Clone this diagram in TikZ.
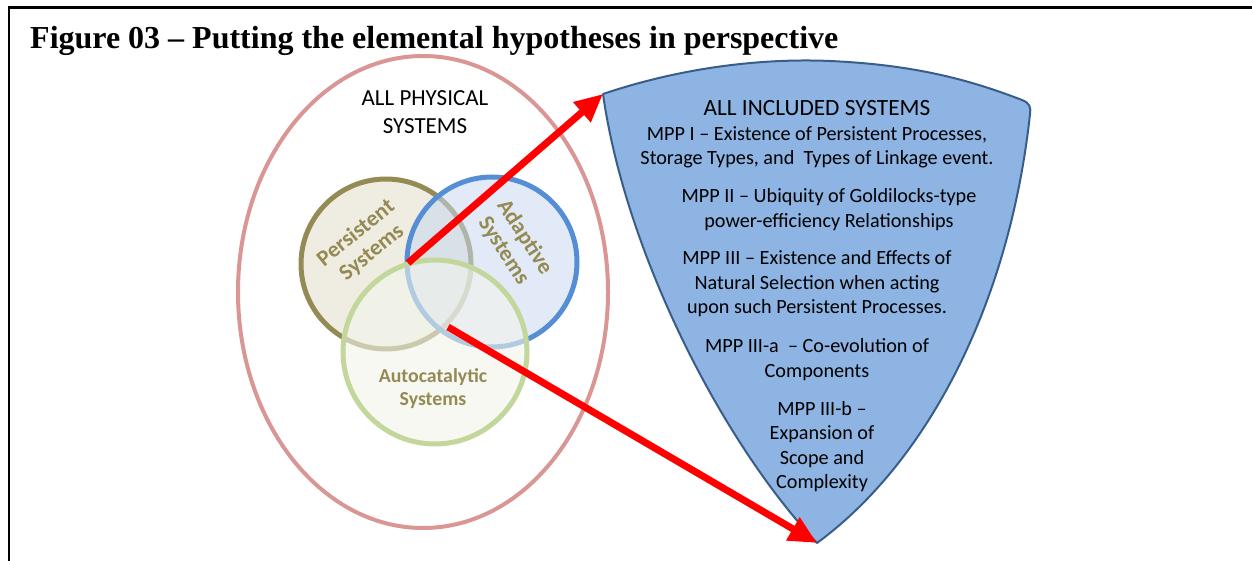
\documentclass[tikz,border=0pt]{standalone}
\usepackage{fontspec}
\setmainfont{Carlito}
\newfontfamily\titlefont{Liberation Serif}
\usetikzlibrary{arrows.meta,shapes.geometric}
\definecolor{physc}{HTML}{D99694}
\definecolor{persc}{HTML}{948A54}
\definecolor{persf}{HTML}{E4E1CF}
\definecolor{adapc}{HTML}{558ED5}
\definecolor{adapf}{HTML}{C9D8EE}
\definecolor{autoc}{HTML}{C3D69B}
\definecolor{autof}{HTML}{F1F4EA}
\definecolor{shieldf}{HTML}{8EB4E3}
\definecolor{shieldc}{HTML}{385D8A}
\definecolor{arrred}{HTML}{FF0000}
\tikzset{
  venn/.style={circle, inner sep=0pt, line width=5pt},
  vennlabel/.style={text=persc, font=\bfseries\fontsize{22.5}{25}\selectfont, align=center, inner sep=0pt},
  bodytext/.style={font=\fontsize{20.2}{24.5}\selectfont, align=center, inner sep=0pt, text=black},
  redarrow/.style={draw=arrred, line width=7pt, -{Triangle[length=28pt,width=25pt]}}
}
\begin{document}
\begin{tikzpicture}[x=1pt,y=-1pt]
\useasboundingbox (0,0) rectangle (1252,561);
% frame
\draw[line width=2pt] (9,561) -- (9,7.5);
\draw[line width=3pt] (8,7.5) -- (1252,7.5);
% title
\node[anchor=base west, inner sep=0pt, font=\titlefont\bfseries\fontsize{32}{36}\selectfont] (title) at (30,49) {Figure 03 – Putting the elemental hypotheses in perspective};
% all physical systems
\node[ellipse, draw=physc, line width=4pt, minimum width=370pt, minimum height=472pt, inner sep=0pt] (phys) at (423,292) {};
\node[bodytext, font=\fontsize{23}{28}\selectfont] (physlbl) at (425,112) {ALL PHYSICAL\\SYSTEMS};
% venn circles
\node[venn, draw=persc, fill=persf, fill opacity=0.6, minimum size=170pt] (pers) at (386,264) {};
\node[venn, draw=adapc, fill=adapf, fill opacity=0.55, minimum size=170pt] (adap) at (492,262) {};
\node[venn, draw=autoc, fill=autof, fill opacity=0.6, minimum size=184pt] (auto) at (435,352) {};
\node[vennlabel, rotate=39] (perslbl) at (364,243) {Persistent\\Systems};
\node[vennlabel, rotate=-57] (adaplbl) at (514,244) {Adaptive\\Systems};
\node[vennlabel, font=\bfseries\fontsize{19.8}{23}\selectfont] (autolbl) at (433,389) {Autocatalytic\\Systems};
% included systems shield
\coordinate (stl) at (603,94);
\coordinate (sbt) at (817,543);
\coordinate (str) at (1030,114);
\filldraw[fill=shieldf, draw=shieldc, line width=2pt, line join=round]
  (stl) .. controls (680,68) and (760,58) .. (830,61)
        .. controls (920,65) and (975,82) .. (1022,100)
        .. controls (1030,103) and (1031,108) .. (str)
        .. controls (1010,300) and (930,460) .. (sbt)
        .. controls (720,440) and (625,250) .. (stl) -- cycle;
\node[bodytext, font=\fontsize{23.3}{26}\selectfont] (inclhead) at (817,108) {ALL INCLUDED SYSTEMS};
\node[bodytext] (mpp1) at (817,147.5) {MPP I – Existence of Persistent Processes,\\Storage Types, and\ \ Types of Linkage event.};
\node[bodytext] (mpp2) at (829,209.5) {MPP II – Ubiquity of Goldilocks-type\\power-efficiency Relationships};
\node[bodytext] (mpp3) at (817,284) {MPP III – Existence and Effects of\\Natural Selection when acting\\upon such Persistent Processes.};
\node[bodytext] (mpp3a) at (817,359.5) {MPP III-a\ \ – Co-evolution of\\Components};
\node[bodytext] (mpp3b) at (822,446.5) {MPP III-b –\\Expansion of\\Scope and\\Complexity};
% arrows
\coordinate (a1s) at (408,263);
\coordinate (a2s) at (448,327);
\draw[redarrow] (a1s) -- (stl);
\draw[redarrow] (a2s) -- (sbt);
\end{tikzpicture}
\end{document}
